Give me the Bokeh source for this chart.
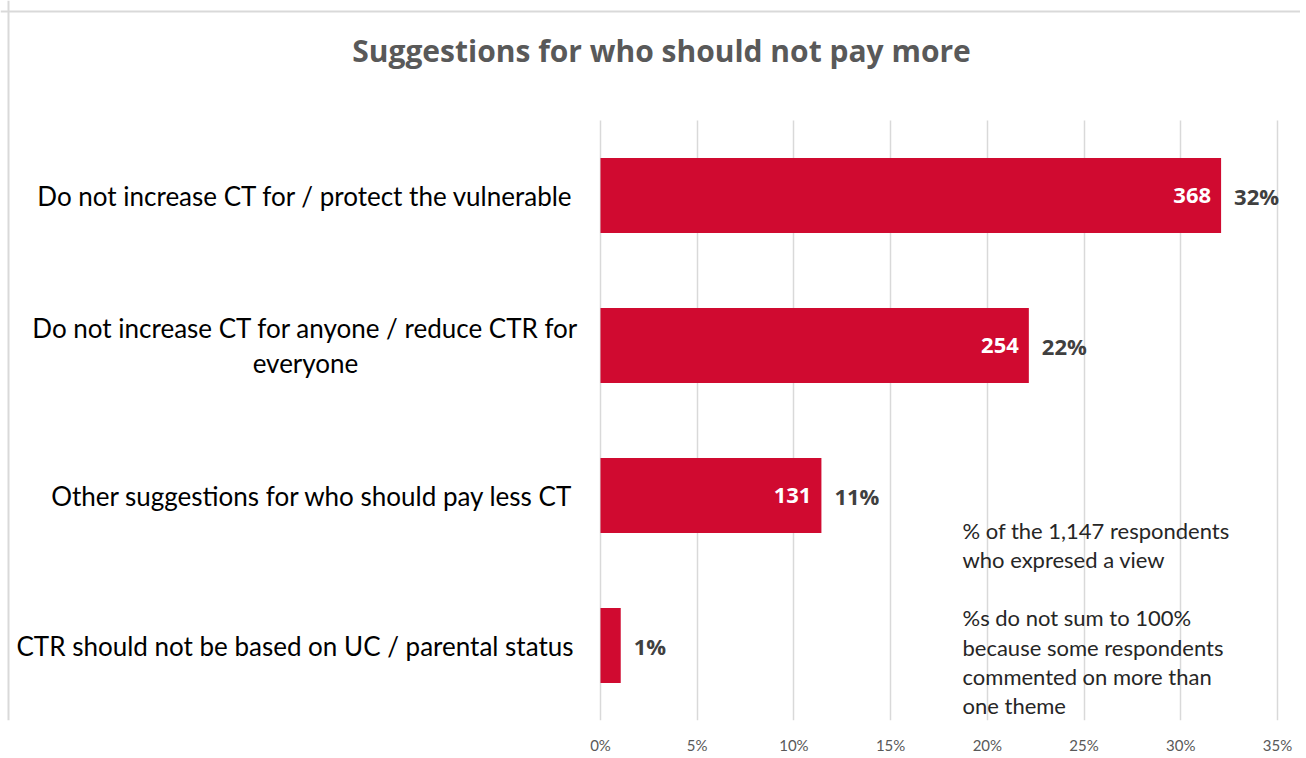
from bokeh.plotting import figure
from bokeh.models import (ColumnDataSource, LabelSet, Label, FixedTicker,
                          PrintfTickFormatter, Range1d, Span)
from bokeh.core.properties import value
from bokeh.embed import file_html
from bokeh.resources import INLINE

# ---- data ----
categories = [
    "Do not increase CT for / protect the vulnerable",
    "Do not increase CT for anyone / reduce CTR for\neveryone",
    "Other suggestions for who should pay less CT",
    "CTR should not be based on UC / parental status",
]
counts = [368, 254, 131, 12]
total_respondents = 1147
show_count = [True, True, True, False]
x_ticks = [0, 5, 10, 15, 20, 25, 30, 35]
title_text = "Suggestions for who should not pay more"
note_text = ("% of the 1,147 respondents\nwho expresed a view\n\n"
             "%s do not sum to 100%\nbecause some respondents\n"
             "commented on more than\none theme")

RED = "#D00A30"
FONT = "Lato"
BOLD_FONT = "Open Sans"

n = len(categories)
pct = [c / total_respondents * 100 for c in counts]
ys = [n - i - 0.5 for i in range(n)]
pct_txt = [f"{round(v):d}%" for v in pct]
cnt_txt = [str(c) if s else "" for c, s in zip(counts, show_count)]

src = ColumnDataSource(dict(y=ys, pct=pct, pct_txt=pct_txt, cnt_txt=cnt_txt))

# layout: 0% at px 600, 35% at px 1277; category bands 150px tall, frame bottom at 720
PX_PER_PCT = (1277 - 600) / 35.0
W, FRAME_H, BOTTOM = 1300, 720, 36
x0 = -600 / PX_PER_PCT
x1 = (W - 600) / PX_PER_PCT
y1 = n + 120 / 150.0

p = figure(frame_width=W, frame_height=FRAME_H, output_backend="svg",
           toolbar_location=None, x_range=Range1d(x0, x1), y_range=Range1d(0, y1),
           min_border_left=0, min_border_right=0, min_border_top=0,
           min_border_bottom=BOTTOM)
p.outline_line_color = None
p.background_fill_color = "white"
p.border_fill_color = "white"

# chart-area border (top and left)
p.add_layout(Span(location=x0 + 8 / PX_PER_PCT, dimension="height",
                  line_color="#d9d9d9", line_width=2))
p.add_layout(Span(location=y1 - 11 / 150.0, dimension="width",
                  line_color="#d9d9d9", line_width=2))

p.hbar(y="y", right="pct", left=0, height=0.5, source=src,
       fill_color=RED, line_color=None)

# axes
p.yaxis.visible = False
p.ygrid.grid_line_color = None
p.xgrid.ticker = FixedTicker(ticks=x_ticks)
p.xgrid.cross_bounds = (0, n)
p.xgrid.grid_line_color = "#d9d9d9"
p.xgrid.grid_line_width = 1.5
p.xaxis.ticker = FixedTicker(ticks=x_ticks)
p.xaxis.formatter = PrintfTickFormatter(format="%d%%")
p.xaxis.axis_line_color = None
p.xaxis.major_tick_line_color = None
p.xaxis.minor_tick_line_color = None
p.xaxis.major_tick_out = 0
p.xaxis.major_tick_in = 0
p.xaxis.major_label_standoff = 15
p.xaxis.major_label_text_font = FONT
p.xaxis.major_label_text_font_size = "15px"
p.xaxis.major_label_text_color = "#595959"

# value labels
p.add_layout(LabelSet(x="pct", y="y", text="cnt_txt", source=src,
                      x_offset=-10, text_align="right", text_baseline="middle",
                      text_font=value(BOLD_FONT), text_font_style="bold",
                      text_font_size="22px", text_color="white"))
p.add_layout(LabelSet(x="pct", y="y", text="pct_txt", source=src,
                      x_offset=13, text_align="left", text_baseline="middle",
                      text_font=value(BOLD_FONT), text_font_style="bold",
                      text_font_size="22px", text_color="#404040"))

# category labels
for cat, y in zip(categories, ys):
    multi = "\n" in cat
    p.add_layout(Label(x=0, y=y, text=cat,
                       x_offset=(-295 if multi else -27),
                       text_align=("center" if multi else "right"),
                       text_baseline="middle", text_font=FONT,
                       text_font_size="26px", text_color="#000000",
                       text_line_height=1.12))

# title
p.add_layout(Label(x=(661 - 600) / PX_PER_PCT, y=n + 70 / 150.0, text=title_text,
                   text_align="center", text_baseline="middle",
                   text_font=BOLD_FONT, text_font_style="bold",
                   text_font_size="30px", text_color="#595959"))

# note
p.add_layout(Label(x=(962 - 600) / PX_PER_PCT, y=n - (617.5 - 120) / 150.0,
                   text=note_text, text_align="left", text_baseline="middle",
                   text_font=FONT, text_font_size="22px", text_color="#262626",
                   text_line_height=1.08))

open("out.html", "w").write(file_html(p, INLINE))
